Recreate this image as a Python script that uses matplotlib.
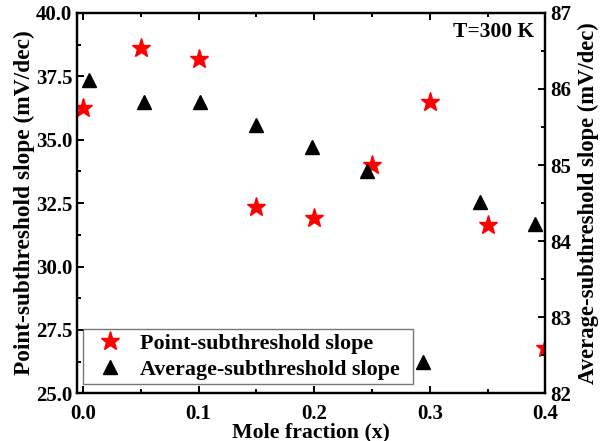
import numpy as np
import matplotlib
matplotlib.use("Agg")
import matplotlib.pyplot as plt
from matplotlib.ticker import MultipleLocator, FormatStrFormatter

plt.rcParams.update({
    "font.family": "serif",
    "font.serif": ["Liberation Serif", "DejaVu Serif"],
    "font.weight": "bold",
    "axes.labelweight": "bold",
    "axes.linewidth": 1.6,
    "xtick.direction": "in",
    "ytick.direction": "in",
})

# Point-subthreshold slope (left axis)
x_point = [0.0, 0.05, 0.1, 0.15, 0.2, 0.25, 0.3, 0.35, 0.4]
y_point = [36.25, 38.62, 38.16, 32.35, 31.9, 34.0, 36.49, 31.63, 26.77]

# Average-subthreshold slope (right axis)
x_avg = [0.005, 0.053, 0.101, 0.15, 0.198, 0.246, 0.294, 0.343, 0.391]
y_avg = [86.12, 85.83, 85.83, 85.52, 85.24, 84.92, 82.41, 84.52, 84.23]

fig = plt.figure(figsize=(6.06, 4.41), dpi=100)
ax = fig.add_axes([0.1275, 0.108, 0.7725, 0.863])
ax2 = ax.twinx()

s1, = ax.plot(x_point, y_point, linestyle="none", marker="*", color="#FF0000",
              markersize=14, label="Point-subthreshold slope")
s2, = ax2.plot(x_avg, y_avg, linestyle="none", marker="^", color="black",
               markersize=10, label="Average-subthreshold slope")

ax.set_xlim(-0.005, 0.4)
ax.set_ylim(25, 40)
ax2.set_ylim(82, 87)

ax.xaxis.set_major_locator(MultipleLocator(0.1))
ax.xaxis.set_minor_locator(MultipleLocator(0.05))
ax.yaxis.set_major_locator(MultipleLocator(2.5))
ax.yaxis.set_minor_locator(MultipleLocator(1.25))
ax2.yaxis.set_major_locator(MultipleLocator(1))
ax2.yaxis.set_minor_locator(MultipleLocator(0.5))
ax.xaxis.set_major_formatter(FormatStrFormatter("%.1f"))
ax.yaxis.set_major_formatter(FormatStrFormatter("%.1f"))

ax.tick_params(axis="x", which="both", top=True, labelsize=15, width=1.4, pad=7.5)
ax.tick_params(axis="y", which="both", labelsize=15, width=1.4)
ax.tick_params(which="major", length=5)
ax.tick_params(which="minor", length=3)
ax2.tick_params(axis="y", which="both", labelsize=15, width=1.4)
ax2.tick_params(which="major", length=5)
ax2.tick_params(which="minor", length=3)
for lbl in ax.get_xticklabels() + ax.get_yticklabels() + ax2.get_yticklabels():
    lbl.set_fontweight("bold")

ax.set_xlabel("Mole fraction (x)", fontsize=15.7, labelpad=-1)
ax.set_ylabel("Point-subthreshold slope (mV/dec)", fontsize=16.8, labelpad=1)
ax2.set_ylabel("Average-subthreshold slope (mV/dec)", fontsize=16.3, labelpad=5)

ax.text(0.975, 0.975, "T=300 K", transform=ax.transAxes, ha="right", va="top",
        fontsize=15.5, fontweight="bold")

leg = ax.legend(handles=[s1, s2], loc="lower left",
                bbox_to_anchor=(0.0128, 0.024, 0.705, 0.142), mode="expand",
                fontsize=15.8, frameon=True, fancybox=False, borderaxespad=0,
                handletextpad=0.4, labelspacing=0.25, borderpad=0.2)
leg.get_frame().set_edgecolor("#555555")
leg.get_frame().set_linewidth(1.0)

fig.savefig("out.png", dpi=100)
